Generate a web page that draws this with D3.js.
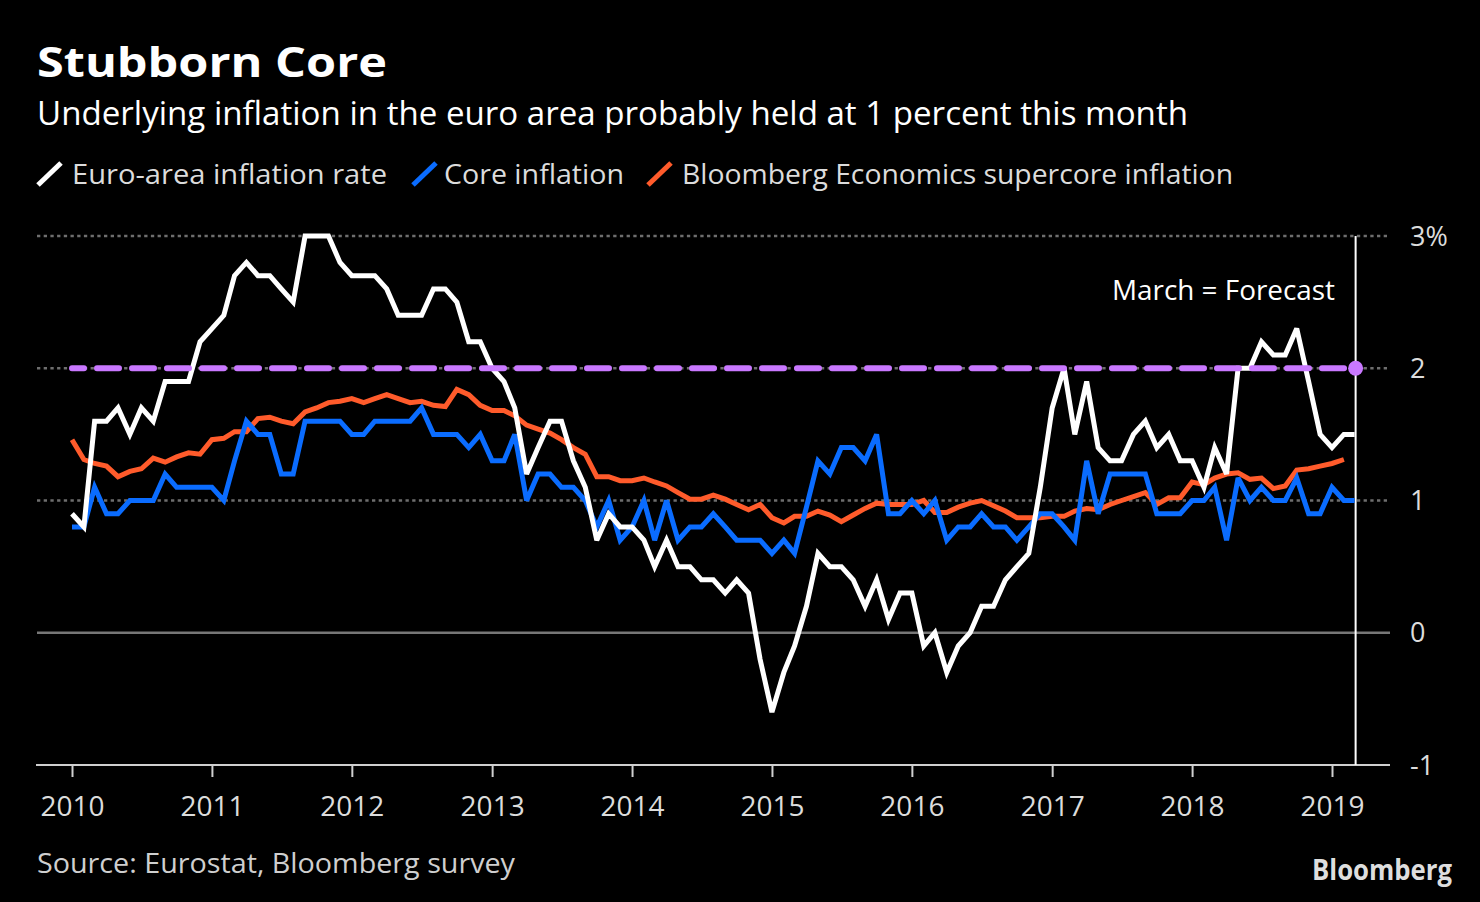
<!DOCTYPE html>
<html>
<head>
<meta charset="utf-8">
<script src="https://cdn.jsdelivr.net/npm/d3@7"></script>
<style>
  html, body { margin: 0; padding: 0; background: #000; }
  svg { display: block; }
  text { font-family: "Open Sans", "Noto Sans", sans-serif; }
</style>
</head>
<body>
<svg id="chart" width="1480" height="902"></svg>
<script>
// ---------------- DATA ----------------
const startMonth = "2010-01";           // first observation
const yearTicks = [2010, 2011, 2012, 2013, 2014, 2015, 2016, 2017, 2018, 2019];
const yTicks = [-1, 0, 1, 2, 3];
const yTickLabels = ["-1", "0", "1", "2", "3%"];
const ecbTarget = 2;

// Euro-area HICP inflation, Jan 2010 - Mar 2019 (Mar 2019 = forecast)
const headline = [
  0.9, 0.8, 1.6, 1.6, 1.7, 1.5, 1.7, 1.6, 1.9, 1.9, 1.9, 2.2,
  2.3, 2.4, 2.7, 2.8, 2.7, 2.7, 2.6, 2.5, 3.0, 3.0, 3.0, 2.8,
  2.7, 2.7, 2.7, 2.6, 2.4, 2.4, 2.4, 2.6, 2.6, 2.5, 2.2, 2.2,
  2.0, 1.9, 1.7, 1.2, 1.4, 1.6, 1.6, 1.3, 1.1, 0.7, 0.9, 0.8,
  0.8, 0.7, 0.5, 0.7, 0.5, 0.5, 0.4, 0.4, 0.3, 0.4, 0.3, -0.2,
  -0.6, -0.3, -0.1, 0.2, 0.6, 0.5, 0.5, 0.4, 0.2, 0.4, 0.1, 0.3,
  0.3, -0.1, 0.0, -0.3, -0.1, 0.0, 0.2, 0.2, 0.4, 0.5, 0.6, 1.1,
  1.7, 2.0, 1.5, 1.9, 1.4, 1.3, 1.3, 1.5, 1.6, 1.4, 1.5, 1.3,
  1.3, 1.1, 1.4, 1.2, 2.0, 2.0, 2.2, 2.1, 2.1, 2.3, 1.9, 1.5,
  1.4, 1.5, 1.5
];

// Core inflation, Jan 2010 - Mar 2019
const core = [
  0.8, 0.8, 1.1, 0.9, 0.9, 1.0, 1.0, 1.0, 1.2, 1.1, 1.1, 1.1,
  1.1, 1.0, 1.3, 1.6, 1.5, 1.5, 1.2, 1.2, 1.6, 1.6, 1.6, 1.6,
  1.5, 1.5, 1.6, 1.6, 1.6, 1.6, 1.7, 1.5, 1.5, 1.5, 1.4, 1.5,
  1.3, 1.3, 1.5, 1.0, 1.2, 1.2, 1.1, 1.1, 1.0, 0.8, 1.0, 0.7,
  0.8, 1.0, 0.7, 1.0, 0.7, 0.8, 0.8, 0.9, 0.8, 0.7, 0.7, 0.7,
  0.6, 0.7, 0.6, 0.95, 1.3, 1.2, 1.4, 1.4, 1.3, 1.5, 0.9, 0.9,
  1.0, 0.9, 1.0, 0.7, 0.8, 0.8, 0.9, 0.8, 0.8, 0.7, 0.8, 0.9,
  0.9, 0.8, 0.7, 1.3, 0.9, 1.2, 1.2, 1.2, 1.2, 0.9, 0.9, 0.9,
  1.0, 1.0, 1.1, 0.7, 1.17, 1.0, 1.1, 1.0, 1.0, 1.17, 0.9, 0.9,
  1.1, 1.0, 1.0
];

// Bloomberg Economics supercore inflation, Jan 2010 - Feb 2019
const supercore = [
  1.46, 1.31, 1.28, 1.26, 1.18, 1.22, 1.24, 1.32, 1.29, 1.33, 1.36, 1.35,
  1.46, 1.47, 1.52, 1.52, 1.62, 1.63, 1.60, 1.58, 1.67, 1.70, 1.74, 1.75,
  1.77, 1.74, 1.77, 1.80, 1.77, 1.74, 1.75, 1.72, 1.71, 1.84, 1.80, 1.72,
  1.68, 1.68, 1.64, 1.57, 1.54, 1.51, 1.46, 1.40, 1.35, 1.18, 1.18, 1.15,
  1.15, 1.17, 1.14, 1.11, 1.06, 1.01, 1.01, 1.04, 1.01, 0.97, 0.93, 0.97,
  0.87, 0.83, 0.88, 0.88, 0.92, 0.89, 0.84, 0.89, 0.94, 0.98, 0.97, 0.97,
  0.97, 1.00, 0.91, 0.91, 0.95, 0.98, 1.00, 0.96, 0.92, 0.87, 0.87, 0.87,
  0.88, 0.88, 0.92, 0.94, 0.93, 0.97, 1.00, 1.03, 1.06, 0.97, 1.02, 1.02,
  1.14, 1.12, 1.17, 1.20, 1.21, 1.16, 1.17, 1.09, 1.11, 1.23, 1.24, 1.26,
  1.28, 1.31
];

const seriesNames = ["Euro-area inflation rate", "Core inflation", "Bloomberg Economics supercore inflation"];
const seriesColors = ["#ffffff", "#0a6cff", "#ff5b2b"];
const targetColor = "#c978ff";

// ---------------- CHART ----------------
const svg = d3.select("#chart");
svg.append("rect").attr("width", 1480).attr("height", 902).attr("fill", "#000");

const parseMonth = d3.timeParse("%Y-%m");
const t0 = parseMonth(startMonth);
const monthOf = i => d3.timeMonth.offset(t0, i);

const x = d3.scaleTime()
  .domain([new Date(2010, 0, 1), new Date(2019, 0, 1)])
  .range([72, 1332]);
const y = d3.scaleLinear().domain([-1, 3]).range([765, 236]);

const gridLeft = 37, gridRight = 1390;
const lastDate = monthOf(headline.length - 1);

// Gridlines
const grid = svg.append("g");
grid.selectAll("line.dot")
  .data(yTicks.filter(v => v > 0))
  .join("line")
  .attr("x1", gridLeft).attr("x2", gridRight)
  .attr("y1", d => y(d)).attr("y2", d => y(d))
  .attr("stroke", "#6e6e6e").attr("stroke-width", 2.6)
  .attr("stroke-dasharray", "3.3,3.4");
grid.append("line")
  .attr("x1", gridLeft).attr("x2", gridRight)
  .attr("y1", y(0)).attr("y2", y(0))
  .attr("stroke", "#777").attr("stroke-width", 2.5);

// Bottom axis
const xAxis = d3.axisBottom(x)
  .tickValues(yearTicks.map(yr => new Date(yr, 0, 1)))
  .tickFormat(d3.timeFormat("%Y"))
  .tickSize(12).tickSizeOuter(0).tickPadding(14);
const gx = svg.append("g").attr("transform", `translate(0,${y(-1)})`).call(xAxis);
gx.select(".domain").remove();
gx.selectAll(".tick line").attr("stroke", "#cfcfcf").attr("stroke-width", 2);
gx.selectAll(".tick text")
  .attr("fill", "#dcdcdc").attr("font-size", 28)
  .attr("font-family", "'Open Sans', sans-serif")
  .attr("dy", 0).attr("y", 51);
svg.append("line")
  .attr("x1", gridLeft - 1).attr("x2", gridRight)
  .attr("y1", y(-1)).attr("y2", y(-1))
  .attr("stroke", "#cfcfcf").attr("stroke-width", 2.2);

// Right axis labels
const yAxis = d3.axisRight(y)
  .tickValues(yTicks)
  .tickFormat((d, i) => yTickLabels[i])
  .tickSize(0).tickPadding(0);
const gy = svg.append("g").attr("transform", "translate(1410,0)").call(yAxis);
gy.select(".domain").remove();
gy.selectAll(".tick text")
  .attr("fill", "#dcdcdc").attr("font-size", 27)
  .attr("font-family", "'Open Sans', sans-serif")
  .attr("text-anchor", "start").attr("x", 0).attr("dy", "0.34em");

// Forecast vertical line
svg.append("line")
  .attr("x1", x(lastDate) + 1).attr("x2", x(lastDate) + 1)
  .attr("y1", y(3)).attr("y2", y(-1))
  .attr("stroke", "#fff").attr("stroke-width", 2);

svg.append("text")
  .attr("x", 1335).attr("y", 300)
  .attr("text-anchor", "end")
  .attr("fill", "#fff").attr("font-size", 28)
  .attr("textLength", 223).attr("lengthAdjust", "spacingAndGlyphs")
  .text("March = Forecast");

// Lines (drawn bottom to top: supercore, core, headline)
const line = d3.line()
  .x((d, i) => x(monthOf(i)))
  .y(d => y(d))
  .curve(d3.curveLinear);

const seriesData = [headline, core, supercore];
[2, 1, 0].forEach(k => {
  svg.append("path")
    .datum(seriesData[k])
    .attr("d", line)
    .attr("fill", "none")
    .attr("stroke", seriesColors[k])
    .attr("stroke-width", 5)
    .attr("stroke-linejoin", "miter")
    .attr("stroke-miterlimit", 3)
    .attr("stroke-linecap", "butt");
});

// ECB target line (2%)
svg.append("line")
  .attr("x1", x(t0)).attr("x2", x(lastDate) + 1)
  .attr("y1", y(ecbTarget)).attr("y2", y(ecbTarget))
  .attr("stroke", targetColor).attr("stroke-width", 6)
  .attr("stroke-linecap", "round")
  .attr("stroke-dasharray", "22,13")
  .attr("stroke-dashoffset", 10);
svg.append("circle")
  .attr("cx", x(lastDate) + 1).attr("cy", y(ecbTarget)).attr("r", 7.5)
  .attr("fill", targetColor);

// Title & subtitle
svg.append("text")
  .attr("x", 37).attr("y", 77)
  .attr("fill", "#fff").attr("font-size", 42).attr("font-weight", 700)
  .attr("textLength", 350).attr("lengthAdjust", "spacingAndGlyphs")
  .text("Stubborn Core");
svg.append("text")
  .attr("x", 37).attr("y", 125)
  .attr("fill", "#fff").attr("font-size", 32.5)
  .attr("textLength", 1151).attr("lengthAdjust", "spacingAndGlyphs")
  .text("Underlying inflation in the euro area probably held at 1 percent this month");

// Legend
const legendItems = [
  { icon: 38, textX: 72, len: 315 },
  { icon: 413, textX: 444, len: 180 },
  { icon: 648, textX: 682, len: 551 }
];
const lg = svg.append("g");
legendItems.forEach((it, k) => {
  lg.append("line")
    .attr("x1", it.icon).attr("y1", 185)
    .attr("x2", it.icon + 23).attr("y2", 163)
    .attr("stroke", seriesColors[k]).attr("stroke-width", 5);
  lg.append("text")
    .attr("x", it.textX).attr("y", 184)
    .attr("fill", "#dcdcdc").attr("font-size", 28)
    .attr("textLength", it.len).attr("lengthAdjust", "spacingAndGlyphs")
    .text(seriesNames[k]);
});

// Source & logo
svg.append("text")
  .attr("x", 37).attr("y", 873)
  .attr("fill", "#cfcfcf").attr("font-size", 28)
  .attr("textLength", 478).attr("lengthAdjust", "spacingAndGlyphs")
  .text("Source: Eurostat, Bloomberg survey");
svg.append("text")
  .attr("x", 1452).attr("y", 880)
  .attr("text-anchor", "end")
  .attr("fill", "#dedede").attr("font-size", 28).attr("font-weight", 700)
  .attr("font-family", "'Liberation Sans', Arial, sans-serif")
  .attr("textLength", 140).attr("lengthAdjust", "spacingAndGlyphs")
  .text("Bloomberg");
</script>
</body>
</html>
